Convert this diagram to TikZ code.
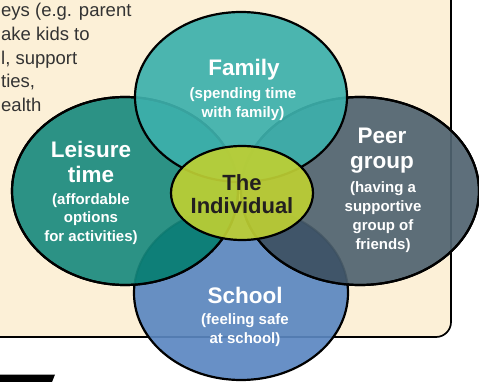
\documentclass[tikz,border=0pt]{standalone}
\usepackage{fontspec}
\setmainfont{Liberation Sans}

\definecolor{creme}{HTML}{FCF0D7}
\definecolor{familia}{HTML}{3DB0AC}
\definecolor{lazer}{HTML}{1B8A7F}
\definecolor{amigos}{HTML}{506370}
\definecolor{escola}{HTML}{5B87C1}
\definecolor{individuo}{HTML}{BDCF33}
\definecolor{lazerescola}{HTML}{037971}
\definecolor{amigosescola}{HTML}{354B61}
\definecolor{cinza}{HTML}{333333}
\definecolor{escuro}{HTML}{231F20}

\tikzset{
  circulo/.style={draw=black, line width=2.2pt, fill opacity=.92},
  titulo/.style={text=white, inner sep=0pt, align=center,
    font=\fontsize{22.5}{25}\selectfont\bfseries},
  legenda/.style={text=white, inner sep=0pt, align=center,
    font=\fontsize{15}{18.5}\selectfont\bfseries},
  nota/.style={text=cinza, inner sep=0pt, align=left,
    font=\fontsize{18.5}{23.6}\selectfont}
}

\begin{document}
\begin{tikzpicture}[x=1pt, y=-1pt]

  %--------------------------------------------
  % Área visível e quadro de fundo
  %--------------------------------------------
  \useasboundingbox (0,0) rectangle (479,382);
  \clip (0,0) rectangle (479,382);

  \draw[fill=creme, line width=1.7pt, rounded corners=15pt]
  (-30,-30) rectangle (451,337);

  % Faixa preta no canto inferior
  \fill[black] (0,374.5) -- (55,374.5) -- (52,382) -- (0,382) -- cycle;

  % Texto do quadro (cortado à esquerda)
  \node[nota, anchor=west] (nota) at (1,57.5)
  {eys (e.g. parent\\ake kids to\\l, support\\ties,\\ealth};

  %--------------------------------------------
  % Elipses de baixo: nome/centro x/centro y/raio x/raio y
  %--------------------------------------------
  \foreach \n/\x/\y/\rx/\ry in {escola/241/293/107/87,
                                 lazer/125/191/113/94,
                                 amigos/360/191/119/94}
  {
    \coordinate (\n) at (\x,\y);
    \draw[circulo, fill=\n] (\n) ellipse [x radius=\rx, y radius=\ry];
  }

  %--------------------------------------------
  % Regiões de sobreposição com a escola (mais escuras)
  %--------------------------------------------
  \begin{scope}
    \clip (escola) ellipse [x radius=107, y radius=87];
    \fill[lazerescola, fill opacity=.6] (lazer) ellipse [x radius=113, y radius=94];
    \fill[amigosescola, fill opacity=.6] (amigos) ellipse [x radius=119, y radius=94];
  \end{scope}

  % Contornos refeitos por cima das sobreposições
  \draw[line width=2.2pt] (lazer) ellipse [x radius=113, y radius=94];
  \draw[line width=2.2pt] (amigos) ellipse [x radius=119, y radius=94];

  %--------------------------------------------
  % Família (por cima) e o indivíduo no centro
  %--------------------------------------------
  \coordinate (familia) at (241,97);
  \draw[circulo, fill=familia] (familia) ellipse [x radius=106, y radius=85];

  \coordinate (individuo) at (242,193);
  \draw[circulo, fill=individuo] (individuo) ellipse [x radius=71, y radius=47];

  %--------------------------------------------
  % Rótulos
  %--------------------------------------------
  \node[titulo] (t-familia) at (244,70) {Family};
  \node[legenda] (l-familia) at (243,104) {(spending time\\with family)};

  \node[titulo] (t-lazer) at (91,161.5) {Leisure\\time};
  \node[legenda] (l-lazer) at (91,219) {(affordable\\options\\for activities)};

  \node[titulo] (t-amigos) at (382,150.5) {Peer\\group};
  \node[legenda, font=\fontsize{15}{19}\selectfont\bfseries]
  (l-amigos) at (383,217) {(having a\\supportive\\group of\\friends)};

  \node[titulo] (t-escola) at (245,295) {School};
  \node[legenda] (l-escola) at (245,330) {(feeling safe\\at school)};

  \node[titulo, text=escuro, font=\fontsize{22}{23}\selectfont\bfseries]
  (t-individuo) at (242,194.5) {The\\Individual};

\end{tikzpicture}
\end{document}
